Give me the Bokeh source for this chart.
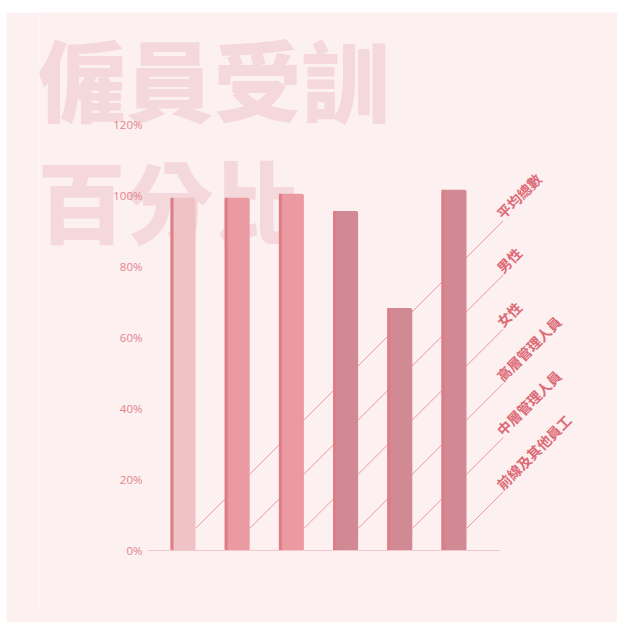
import math
from bokeh.plotting import figure
from bokeh.models import Range1d, FixedTicker, PrintfTickFormatter, Label, LinearAxis
from bokeh.embed import file_html
from bokeh.resources import INLINE

# ---- data ----
categories = ["平均總數", "男性", "女性", "高層管理人員", "中層管理人員", "前線及其他員工"]
percent = [99.4, 99.4, 100.5, 95.6, 68.3, 101.6]
bar_colors = ["#efc3c6", "#ec9aa1", "#ec9aa1", "#d18a93", "#d18a93", "#d18a93"]
y_ticks = [0, 20, 40, 60, 80, 100, 120]
title_lines = ["僱員受訓", "百分比"]

# ---- layout constants (page pixels) ----
ML, MT = 6, 12                 # figure offset on page
W, H = 611, 610
BL, BB = 33, 10                # left / bottom panel sizes
PX_X, CX0 = 54.2, 182.5        # px per category, page x of first bar centre
PX_Y, CY0 = 3.55, 550.0        # px per percent, page y of 0%


def xd(px):
    return (px - CX0) / PX_X


def yd(py):
    return (CY0 - py) / PX_Y


X0, X1 = xd(ML + BL), xd(ML + W)
Y0, Y1 = yd(MT + H - BB), yd(MT)

BG = "#fcf0f1"
TITLE_C = "#f4d8db"
STRIP_C = "#de7d86"
LINE_C = "#ee979e"
LABEL_C = "#dc6b76"
TICK_C = "#e5838b"
BASE_C = "#f3c5c9"
BAR_W = 25 / PX_X
STRIP_W = 3 / PX_X
TITLE_SIZE = 88

p = figure(width=W, height=H, x_range=Range1d(X0, X1), y_range=Range1d(Y0, Y1),
           output_backend="svg", toolbar_location=None,
           x_axis_location=None, y_axis_location=None,
           min_border_left=BL, min_border_right=0, min_border_top=0,
           min_border_bottom=BB,
           background_fill_color=BG, border_fill_color=BG, outline_line_color=None)
p.margin = (MT, 0, 0, ML)
p.grid.visible = False

# baseline (x axis limited to the bar area)
xaxis = LinearAxis(fixed_location=0, bounds=(xd(147), xd(499)),
                   ticker=FixedTicker(ticks=[]),
                   major_tick_out=0, major_tick_in=0, major_label_standoff=0,
                   major_tick_line_color=None, minor_tick_line_color=None,
                   axis_line_color=BASE_C, axis_line_width=1)
p.add_layout(xaxis, "below")

# y axis drawn at a fixed location inside the panel
yaxis = LinearAxis(fixed_location=xd(142), ticker=FixedTicker(ticks=y_ticks),
                   formatter=PrintfTickFormatter(format="%d%%"),
                   axis_line_color=None, major_tick_line_color=None,
                   minor_tick_line_color=None, major_tick_out=0, major_tick_in=0,
                   major_label_standoff=0, major_label_text_color=TICK_C,
                   major_label_text_font="Open Sans",
                   major_label_text_font_size="11.5px")
p.add_layout(yaxis, "left")

# big background title
title_ink_centres = [82, 203]
for line, cy in zip(title_lines, title_ink_centres):
    p.add_layout(Label(x=xd(37), y=yd(cy - 0.07 * TITLE_SIZE), text=line,
                       text_font="Noto Sans CJK TC Black", text_font_style="bold",
                       text_font_size=f"{TITLE_SIZE}px", text_color=TITLE_C,
                       text_align="left", text_baseline="middle", level="underlay"))

xs = list(range(len(categories)))

# leader lines (behind bars), one renderer per line
start_y = yd(528)
end_x = xd(502.7)
x0s = [x + BAR_W / 2 for x in xs]
y1s = [start_y + (end_x - x) * PX_X / PX_Y for x in x0s]
for sx, ey in zip(x0s, y1s):
    p.segment(x0=[sx], y0=[start_y], x1=[end_x], y1=[ey],
              line_color=LINE_C, line_width=1)

# bars
p.vbar(x=xs, top=percent, width=BAR_W, fill_color=bar_colors, line_color=None,
       border_radius=2)
p.vbar(x=[x - BAR_W / 2 + STRIP_W / 2 for x in xs], top=percent, width=STRIP_W,
       fill_color=STRIP_C, line_color=None)

# rotated category labels
for cat, ly in zip(categories, y1s):
    p.add_layout(Label(x=end_x, y=ly, text=cat, angle=math.pi / 4,
                       x_offset=3, y_offset=-2,
                       text_font="Noto Sans CJK TC", text_font_style="bold",
                       text_font_size="14px",
                       text_color=LABEL_C, text_align="left", text_baseline="bottom"))

open("out.html", "w").write(file_html(p, INLINE))
